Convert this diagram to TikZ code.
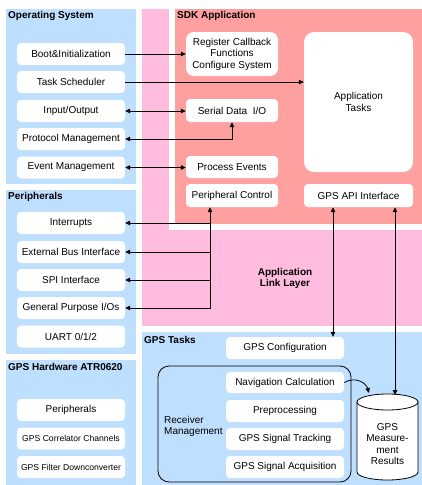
\documentclass[tikz,border=0pt]{standalone}
\usepackage{fontspec}
\setmainfont{Liberation Sans}
\usetikzlibrary{arrows.meta,calc}
\definecolor{pblue}{RGB}{191,223,255}
\definecolor{ppink}{RGB}{255,188,222}
\definecolor{pred}{RGB}{255,160,160}
\begin{document}
\begin{tikzpicture}[x=1pt,y=-1pt,
  box/.style={fill=white, rounded corners=4pt, minimum width=108pt, minimum height=22pt, inner sep=0pt, font=\fontsize{10}{11.5}\selectfont, align=center},
  sbox/.style={box, font=\fontsize{8.6}{10}\selectfont},
  title/.style={font=\bfseries\fontsize{10}{12}\selectfont, anchor=west, inner sep=0pt},
  tip/.tip={Triangle[length=5pt,width=4.5pt]},
  arr/.style={-tip, line width=0.8pt},
  darr/.style={tip-tip, line width=0.8pt}]
\useasboundingbox (0,0) rectangle (422,485);
% panels
\fill[pblue] (6,9) rectangle (136,184);
\fill[pblue] (6,190) rectangle (136,354);
\fill[pblue] (6,360) rectangle (136,485);
\fill[ppink] (142,9) rectangle (422,326);
\fill[white] (169,9) rectangle (422,230);
\fill[pred] (175,9) rectangle (422,224);
\fill[pblue] (142,332) rectangle (422,485);
% titles
\node[title] (tos) at (8,16) {Operating System};
\node[title] (tsdk) at (177,16) {SDK Application};
\node[title] (tper) at (8,197) {Peripherals};
\node[title] (thw) at (8,367) {GPS Hardware ATR0620};
\node[title] (tgps) at (144,340) {GPS Tasks};
\node[font=\bfseries\fontsize{10}{11.5}\selectfont, align=center] (all) at (285,278.5) {Application\\Link Layer};
% OS boxes
\node[box] (boot) at (71,54) {Boot\&Initialization};
\node[box] (ts) at (71,82) {Task Scheduler};
\node[box] (io) at (71,111) {Input/Output};
\node[box] (pm) at (71,139) {Protocol Management};
\node[box] (em) at (71,167.5) {Event Management};
% Peripherals
\node[box] (int) at (71,223) {Interrupts};
\node[box] (ebi) at (71,252) {External Bus Interface};
\node[box] (spi) at (71,280) {SPI Interface};
\node[box] (gpio) at (71,308) {General Purpose I/Os};
\node[box] (uart) at (71,336.5) {UART 0/1/2};
% GPS hardware
\node[box] (hper) at (71,410) {Peripherals};
\node[sbox] (corr) at (71,438.5) {GPS Correlator Channels};
\node[sbox] (filt) at (71,467) {GPS Filter Downconverter};
% SDK
\node[box, rounded corners=8pt, minimum width=92pt, minimum height=44pt] (reg) at (232,54) {Register Callback\\Functions\\Configure System};
\node[box, minimum width=92pt, minimum height=23pt] (ser) at (232,110.5) {Serial Data\ \ I/O};
\node[box, minimum width=92pt] (pe) at (232,167) {Process Events};
\node[box, minimum width=92pt, minimum height=23pt] (pc) at (232,195.5) {Peripheral Control};
\node[box, rounded corners=10pt, minimum width=109pt, minimum height=140pt] (app) at (358.5,102) {Application\\Tasks};
\node[box, minimum width=109pt, minimum height=23pt] (api) at (358.5,195.5) {GPS API Interface};
% GPS tasks
\node[draw, line width=0.8pt, rounded corners=11pt, minimum width=193pt, minimum height=116pt, inner sep=0pt] (rm) at (254.5,424) {};
\node[anchor=west, align=left, inner sep=0pt, font=\fontsize{10}{11}\selectfont] (rmt) at (164,426) {Receiver\\Management};
\node[box, minimum width=118pt] (cfg) at (285,348) {GPS Configuration};
\node[box, minimum width=118pt, minimum height=21pt] (nav) at (285,382.5) {Navigation Calculation};
\node[box, minimum width=118pt] (pre) at (285,411) {Preprocessing};
\node[box, minimum width=118pt] (trk) at (285,439) {GPS Signal Tracking};
\node[box, minimum width=118pt] (acq) at (285,467) {GPS Signal Acquisition};
% cylinder
\filldraw[fill=white, line width=0.8pt] (357,402) -- (357,472) arc[start angle=180, end angle=0, x radius=30.5, y radius=8] -- (418,402) -- cycle;
\draw[fill=white, line width=0.8pt] (387.5,402) ellipse [x radius=30.5, y radius=8];
\node[align=center, inner sep=0pt, font=\fontsize{10}{11.3}\selectfont] (cylt) at (387.5,444) {GPS\\Measure-\\ment\\Results};
\coordinate (cyltop) at (395,395);
\coordinate (cylnw) at (369,393);
% connectors
\draw[arr] (boot.east) -- (boot.east -| reg.west);
\draw[arr] (ts.east) -- (ts.east -| app.west);
\draw[darr] (io.east) -- (io.east -| ser.west);
\draw[darr] (pm.east) -| (ser.south);
\draw[darr] (em.east) -- (em.east -| pe.west);
\coordinate (pcb) at ([xshift=-22pt]pc.south);
\draw[darr] (gpio.east) -| (pcb);
\draw[arr] (int.east -| pcb) -- (int.east);
\draw[arr] (ebi.east -| pcb) -- (ebi.east);
\draw[arr] (spi.east -| pcb) -- (spi.east);
\coordinate (apil) at ([xshift=-25.5pt]api.south);
\coordinate (apir) at ([xshift=36.5pt]api.south);
\draw[darr] (apil) -- (apil |- cfg.north);
\draw[darr] (apir) -- (cyltop);
\draw[arr] (nav.east) .. controls (356,376) and (366,383) .. (cylnw);
\end{tikzpicture}
\end{document}
